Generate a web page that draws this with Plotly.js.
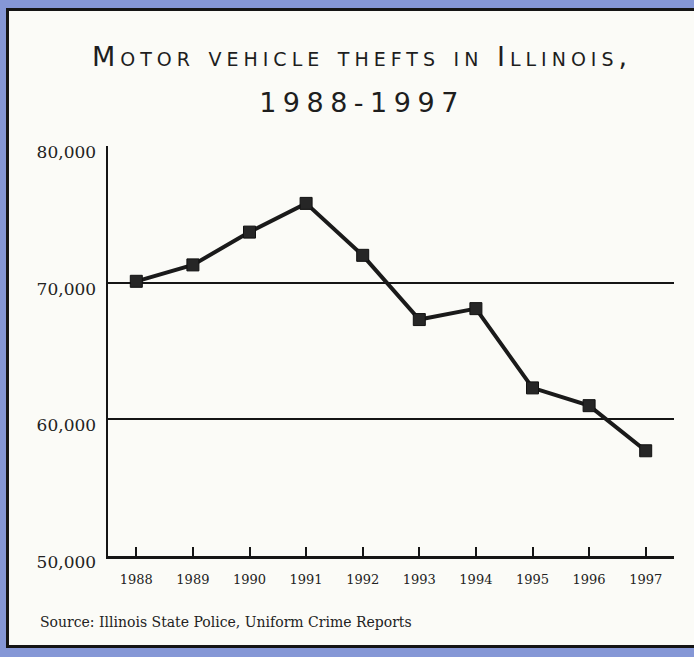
<!DOCTYPE html>
<html>
<head>
<meta charset="utf-8">
<script src="https://cdn.plot.ly/plotly-3.0.1.min.js"></script>
<style>
  html, body { margin: 0; padding: 0; }
  body { width: 694px; height: 657px; background: #8597d6; position: relative; overflow: hidden; }
  #frame { position: absolute; left: 6px; top: 8px; width: 685px; height: 634px;
           border-left: 3px solid #151515; border-top: 3px solid #151515; border-bottom: 3px solid #151515;
           background: #fbfbf7; }
  #chart { width: 685px; height: 634px; }
  .gtitle { letter-spacing: 5px; }
  .gtitle-subtitle { letter-spacing: 6.5px; transform: translateY(-13px); }
</style>
</head>
<body>
<div id="frame"><div id="chart"></div></div>
<script>
const years = [1988, 1989, 1990, 1991, 1992, 1993, 1994, 1995, 1996, 1997];
const thefts = [70100, 71300, 73700, 75800, 72000, 67300, 68100, 62300, 61000, 57700];
const yTicks = [50000, 60000, 70000, 80000];
const yTickLabels = ['50,000', '60,000', '70,000', '80,000'];
const titleLine1 = 'Motor vehicle thefts in Illinois,';
const titleLine2 = '1988-1997';
const sourceText = 'Source: Illinois State Police, Uniform Crime Reports';

const W = 685, H = 634;
const margin = {l: 99, r: 20, t: 135, b: 89};
const pw = W - margin.l - margin.r, ph = H - margin.t - margin.b;

const titleFont = {family: 'DejaVu Sans', size: 27, color: '#1e1e1e', variant: 'small-caps'};

const trace = {
  x: years, y: thefts, type: 'scatter', mode: 'lines+markers',
  line: {color: '#1a1a1a', width: 4},
  marker: {symbol: 'square', size: 12, color: '#262626', line: {color: '#111', width: 1}},
  hoverinfo: 'x+y'
};

const layout = {
  width: W, height: H,
  margin: margin,
  paper_bgcolor: '#fbfbf7', plot_bgcolor: '#fbfbf7',
  showlegend: false,
  title: {
    text: titleLine1,
    subtitle: {text: titleLine2, font: titleFont},
    font: titleFont,
    xref: 'container', yref: 'container',
    x: 353 / W, xanchor: 'center',
    y: 1 - 46 / H, yanchor: 'middle'
  },
  xaxis: {
    range: [1987.5, 1997.5],
    tickvals: years, ticktext: years.map(String),
    ticks: 'inside', ticklen: 9, tickwidth: 2, tickcolor: '#151515',
    showline: true, linecolor: '#151515', linewidth: 2.5,
    showgrid: false, zeroline: false,
    ticklabelstandoff: 10,
    tickfont: {family: 'DejaVu Serif', size: 13, color: '#222'}
  },
  yaxis: {
    range: [50000, 80000],
    tickvals: yTicks, ticktext: yTickLabels,
    ticks: '', showline: true, linecolor: '#151515', linewidth: 2.5,
    showgrid: true, gridcolor: '#151515', gridwidth: 2,
    zeroline: false,
    ticklabelstandoff: 6, ticklabelshift: 6,
    tickfont: {family: 'DejaVu Serif', size: 17, color: '#222'}
  },
  annotations: [{
    text: sourceText, showarrow: false,
    xref: 'paper', yref: 'paper',
    x: (29 - margin.l) / pw, xanchor: 'left',
    y: -(611 - (H - margin.b)) / ph, yanchor: 'middle',
    font: {family: 'DejaVu Serif', size: 14, color: '#222'}
  }]
};

Plotly.newPlot('chart', [trace], layout, {displayModeBar: false, staticPlot: true});
</script>
</body>
</html>
